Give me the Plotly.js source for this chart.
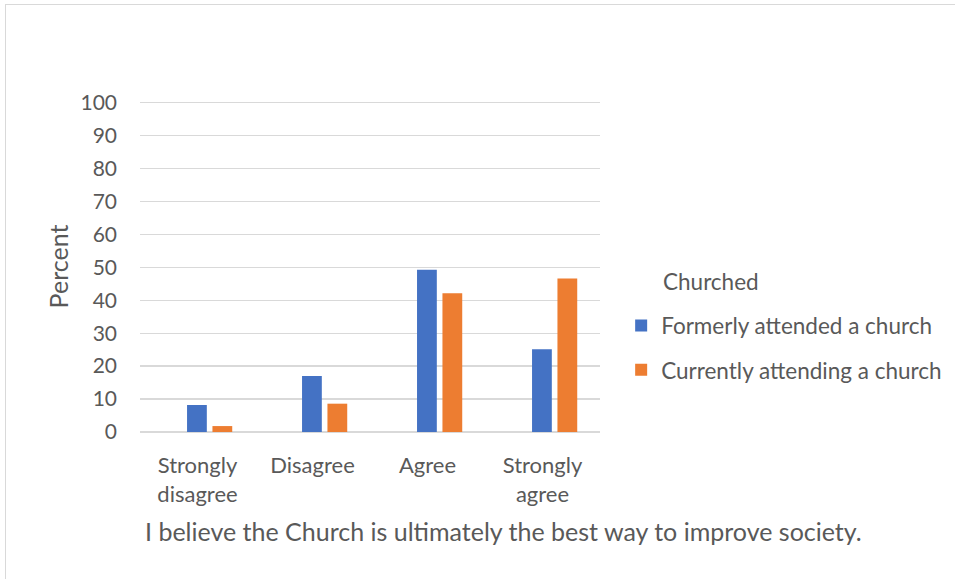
<!DOCTYPE html>
<html>
<head>
<meta charset="utf-8">
<script src="https://cdn.plot.ly/plotly-3.0.1.min.js"></script>
<style>
  html, body { margin: 0; padding: 0; background: #ffffff; }
  #wrap { position: relative; width: 955px; height: 579px; overflow: hidden; }
  #frame { position: absolute; left: 5px; top: 4px; width: 1000px; height: 1000px;
           border-top: 1.5px solid #d9d9d9; border-left: 1.5px solid #d9d9d9; box-sizing: border-box; pointer-events: none; }
  #chart { position: absolute; left: 0; top: 0; width: 955px; height: 579px; }
</style>
</head>
<body>
<div id="wrap">
  <div id="chart"></div>
  <div id="frame"></div>
</div>
<script>
// Survey responses by church attendance
const categories = ["Strongly<br>disagree", "Disagree", "Agree", "Strongly<br>agree"];
const formerlyAttended = [8.2, 17.0, 49.3, 25.1];
const currentlyAttending = [1.8, 8.6, 42.1, 46.6];
const seriesNames = ["Formerly attended a church", "Currently attending a church"];
const yTicks = [0, 10, 20, 30, 40, 50, 60, 70, 80, 90, 100];
const xTitle = "I believe the Church is ultimately the best way to improve society.";
const yTitle = "Percent";
const legendTitle = "Churched";

const FONT = "Lato, 'Open Sans', sans-serif";
const TEXT = "#595959";

const traces = [
  {
    type: "bar", name: seriesNames[0], x: categories, y: formerlyAttended,
    marker: { color: "#4472c4" }, width: 0.172, offset: -0.091,
    legendgroup: "a", hoverinfo: "y"
  },
  {
    type: "bar", name: seriesNames[1], x: categories, y: currentlyAttending,
    marker: { color: "#ed7d31" }, width: 0.172, offset: 0.130,
    legendgroup: "b", hoverinfo: "y"
  }
];

const layout = {
  width: 955, height: 579,
  margin: { l: 140, r: 355, t: 101, b: 147, pad: 0, autoexpand: false },
  paper_bgcolor: "#ffffff", plot_bgcolor: "#ffffff",
  font: { family: FONT, size: 22, color: TEXT },
  barmode: "overlay",
  showlegend: true,
  legend: {
    x: 1.046, xanchor: "left", y: 0.254, yanchor: "middle",
    font: { size: 22.5, color: TEXT },
    tracegroupgap: 12, traceorder: "grouped",
    bgcolor: "rgba(0,0,0,0)"
  },
  annotations: [
    {
      // legend heading
      text: legendTitle, xref: "paper", yref: "paper",
      x: 1.1326, y: 0.456, xanchor: "left", yanchor: "middle",
      showarrow: false, font: { size: 22.5, color: TEXT }
    },
    {
      // horizontal axis caption, centred under the whole chart
      text: xTitle, xref: "paper", yref: "paper",
      x: 0.790, y: -0.299, xanchor: "center", yanchor: "middle",
      showarrow: false, font: { size: 25, color: TEXT }
    }
  ],
  xaxis: {
    type: "category", showgrid: false, zeroline: false, showline: false,
    ticks: "", ticklabelstandoff: 18, tickfont: { size: 22, color: TEXT },
    automargin: false
  },
  yaxis: {
    range: [0, 100.5], tickvals: yTicks, ticktext: yTicks.map(String),
    showgrid: true, gridcolor: "#d9d9d9", gridwidth: 1.3,
    zeroline: true, zerolinecolor: "#d9d9d9", zerolinewidth: 1.3,
    showline: false, ticks: "", ticklabelstandoff: 22,
    tickfont: { size: 21, color: TEXT },
    title: { text: yTitle, font: { size: 25, color: TEXT }, standoff: 4 },
    automargin: false, fixedrange: true
  }
};

Plotly.newPlot("chart", traces, layout, { displayModeBar: false, staticPlot: true });
</script>
</body>
</html>
